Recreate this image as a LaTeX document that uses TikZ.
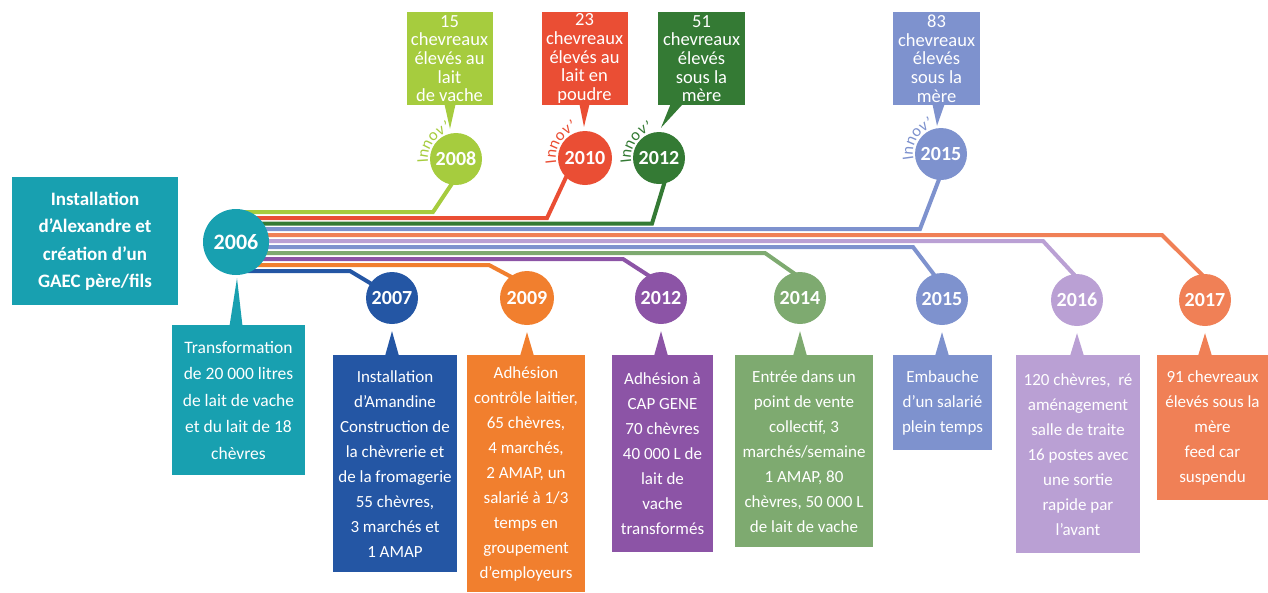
\documentclass[tikz,border=0pt]{standalone}
\usepackage{fontspec}
\setmainfont{Carlito}
\usetikzlibrary{calc,backgrounds,decorations.text}
\definecolor{cTeal}{RGB}{24,160,176}
\definecolor{cLime}{RGB}{166,204,62}
\definecolor{cRed}{RGB}{234,78,52}
\definecolor{cDkGreen}{RGB}{52,122,52}
\definecolor{cPeri}{RGB}{126,146,206}
\definecolor{cDkBlue}{RGB}{36,86,164}
\definecolor{cOrange}{RGB}{241,127,46}
\definecolor{cPurple}{RGB}{140,84,166}
\definecolor{cSage}{RGB}{126,170,112}
\definecolor{cLav}{RGB}{186,160,212}
\definecolor{cSalmon}{RGB}{240,128,86}
\begin{document}
\begin{tikzpicture}[x=1pt,y=1pt,
  yr/.style={circle, fill=#1, text=white, inner sep=0pt, minimum size=52, font=\fontsize{20}{20}\selectfont\bfseries},
  lnk/.style={draw=#1, line width=4pt},
  bbox/.style={fill=#1, text=white, align=center, inner sep=0pt, anchor=north, font=\fontsize{17}{25}\selectfont},
  tbox/.style={fill=#1, text=white, align=center, inner sep=0pt, anchor=north, minimum width=86, minimum height=93, font=\fontsize{18.5}{18.7}\selectfont},
  innov/.style={decorate, decoration={text along path, text align=left, text={|\fontsize{16.5}{16.5}\selectfont\color{#1}|Innov'}}},
]
\useasboundingbox (0,0) rectangle (1268,-592);

% year circles
\node[yr=cTeal, minimum size=66, font=\fontsize{22}{22}\selectfont\bfseries] (c2006) at (236,-242) {2006};
\node[yr=cLime] (c2008) at (456,-159) {2008};
\node[yr=cRed, minimum size=54] (c2010) at (585,-158) {2010};
\node[yr=cDkGreen] (c2012g) at (659,-158) {2012};
\node[yr=cPeri] (c2015t) at (941,-154) {2015};
\node[yr=cDkBlue] (c2007) at (392,-298) {2007};
\node[yr=cOrange, minimum size=54] (c2009) at (527,-298) {2009};
\node[yr=cPurple] (c2012p) at (661,-298) {2012};
\node[yr=cSage] (c2014) at (800,-298) {2014};
\node[yr=cPeri] (c2015b) at (942,-299) {2015};
\node[yr=cLav] (c2016) at (1077,-300) {2016};
\node[yr=cSalmon] (c2017) at (1205,-300) {2017};

% boxes
\node[bbox=cTeal, font=\fontsize{19}{27.5}\selectfont\bfseries, minimum width=166, minimum height=128] (lbox) at (95,-177) {Installation\\d’Alexandre et\\création d’un\\GAEC père/fils};
\node[bbox=cTeal, font=\fontsize{17.5}{26.5}\selectfont, minimum width=133, minimum height=150] (b2006) at (238.5,-325) {Transformation\\de 20~000 litres\\de lait de vache\\et du lait de 18\\chèvres};
\node[bbox=cDkBlue, minimum width=124, minimum height=217] (b2007) at (395,-355) {Installation\\d’Amandine\\Construction de\\la chèvrerie et\\de la fromagerie\\55 chèvres,\\3 marchés et\\1 AMAP};
\node[bbox=cOrange, minimum width=118, minimum height=237] (b2009) at (526,-355) {Adhésion\\contrôle laitier,\\65 chèvres,\\4 marchés,\\2 AMAP, un\\salarié à 1/3\\temps en\\groupement\\d’employeurs};
\node[bbox=cPurple, minimum width=101, minimum height=197] (b2012) at (662.5,-355) {Adhésion à\\CAP GENE\\70 chèvres\\40~000 L de\\lait de\\vache\\transformés};
\node[bbox=cSage, minimum width=138, minimum height=192] (b2014) at (804,-355) {Entrée dans un\\point de vente\\collectif, 3\\marchés/semaine\\1 AMAP, 80\\chèvres, 50~000 L\\de lait de vache};
\node[bbox=cPeri, minimum width=99, minimum height=95] (b2015) at (942.5,-355) {Embauche\\d’un salarié\\plein temps};
\node[bbox=cLav, minimum width=124, minimum height=198] (b2016) at (1078,-355) {120 chèvres,~ ré\\aménagement\\salle de traite\\16 postes avec\\une sortie\\rapide par\\l’avant};
\node[bbox=cSalmon, minimum width=111, minimum height=145] (b2017) at (1212.5,-355) {91 chevreaux\\élevés sous la\\mère\\feed car\\suspendu};

\node[tbox=cLime] (t2008) at (449.5,-12) {15\\chevreaux\\élevés au\\lait\\de vache};
\node[tbox=cRed] (t2010) at (584.5,-12) {23\\chevreaux\\élevés au\\lait en\\poudre};
\node[tbox=cDkGreen, minimum width=87] (t2012) at (701.5,-12) {51\\chevreaux\\élevés\\sous la\\mère};
\node[tbox=cPeri, minimum width=87] (t2015) at (936.5,-12) {83\\chevreaux\\élevés\\sous la\\mère};

\begin{scope}[on background layer]
% connectors from 2006
\draw[lnk=cLime] ($(c2006.center)+(0,30)$) -- (433,-212) -- ($(c2008.264)!4pt!(c2008.center)$);
\draw[lnk=cRed] ($(c2006.center)+(0,24)$) -- (547,-218) -- ($(c2010.222)!4pt!(c2010.center)$);
\draw[lnk=cDkGreen] ($(c2006.center)+(0,18.5)$) -- (652,-223.5) -- ($(c2012g.287)!4pt!(c2012g.center)$);
\draw[lnk=cPeri] ($(c2006.center)+(0,13)$) -- (920,-229) -- ($(c2015t.268)!4pt!(c2015t.center)$);
\draw[lnk=cSalmon] ($(c2006.center)+(0,7)$) -- (1162,-235) -- ($(c2017.north)!4pt!(c2017.center)$);
\draw[lnk=cLav] ($(c2006.center)+(0,1)$) -- (1043,-241) -- ($(c2016.north)!4pt!(c2016.center)$);
\draw[lnk=cPeri] ($(c2006.center)+(0,-5)$) -- (913,-247) -- ($(c2015b.105)!4pt!(c2015b.center)$);
\draw[lnk=cSage] ($(c2006.center)+(0,-11)$) -- (765,-253) -- ($(c2014.96)!4pt!(c2014.center)$);
\draw[lnk=cPurple] ($(c2006.center)+(0,-17)$) -- (623,-259) -- ($(c2012p.114)!4pt!(c2012p.center)$);
\draw[lnk=cOrange] ($(c2006.center)+(0,-23)$) -- (489,-265) -- ($(c2009.123)!4pt!(c2009.center)$);
\draw[lnk=cDkBlue] ($(c2006.center)+(0,-29)$) -- (350,-271) -- ($(c2007.145)!4pt!(c2007.center)$);
% callout tails
\fill[cTeal] ($(c2006.south)+(1,-3)$) -- ($(b2006.north -| c2006)+(-6.5,-1)$) -- ($(b2006.north -| c2006)+(6.5,-1)$) -- cycle;
\fill[cDkBlue] ($(c2007.south)+(0,-7)$) -- ($(b2007.north -| c2007)+(-7,-1)$) -- ($(b2007.north -| c2007)+(7,-1)$) -- cycle;
\fill[cOrange] ($(c2009.south)+(0,-7)$) -- ($(b2009.north -| c2009)+(-7,-1)$) -- ($(b2009.north -| c2009)+(7,-1)$) -- cycle;
\fill[cPurple] ($(c2012p.south)+(0,-7)$) -- ($(b2012.north -| c2012p)+(-7,-1)$) -- ($(b2012.north -| c2012p)+(7,-1)$) -- cycle;
\fill[cSage] ($(c2014.south)+(0,-7)$) -- ($(b2014.north -| c2014)+(-7,-1)$) -- ($(b2014.north -| c2014)+(7,-1)$) -- cycle;
\fill[cPeri] ($(c2015b.south)+(0,-7)$) -- ($(b2015.north -| c2015b)+(-7,-1)$) -- ($(b2015.north -| c2015b)+(7,-1)$) -- cycle;
\fill[cLav] ($(c2016.south)+(0,-7)$) -- ($(b2016.north -| c2016)+(-7,-1)$) -- ($(b2016.north -| c2016)+(7,-1)$) -- cycle;
\fill[cSalmon] ($(c2017.south)+(0,-7)$) -- ($(b2017.north -| c2017)+(-7,-1)$) -- ($(b2017.north -| c2017)+(7,-1)$) -- cycle;
\fill[cLime] ($(t2008.south)+(-5,1)$) -- ($(t2008.south)+(6,1)$) -- ($(c2008.north)+(-6,4)$) -- cycle;
\fill[cRed] ($(t2010.south)+(-5,1)$) -- ($(t2010.south)+(5,1)$) -- ($(c2010.north)+(-1,4)$) -- cycle;
\fill[cDkGreen] ($(t2012.south)+(-31,1)$) -- ($(t2012.south)+(-19,1)$) -- ($(c2012g.north)+(2,4)$) -- cycle;
\fill[cPeri] ($(t2015.south)+(-4,1)$) -- ($(t2015.south)+(8,1)$) -- ($(c2015t.north)+(-4,2)$) -- cycle;
\end{scope}

% Innov' labels
\path[innov=cLime] ($(c2008.center)+(188:28)$) arc[start angle=188, end angle=40, radius=28];
\path[innov=cRed] ($(c2010.center)+(190:29)$) arc[start angle=190, end angle=40, radius=29];
\path[innov=cDkGreen] ($(c2012g.center)+(190:28)$) arc[start angle=190, end angle=40, radius=28];
\path[innov=cPeri] ($(c2015t.center)+(192:28)$) arc[start angle=192, end angle=40, radius=28];
\end{tikzpicture}
\end{document}
